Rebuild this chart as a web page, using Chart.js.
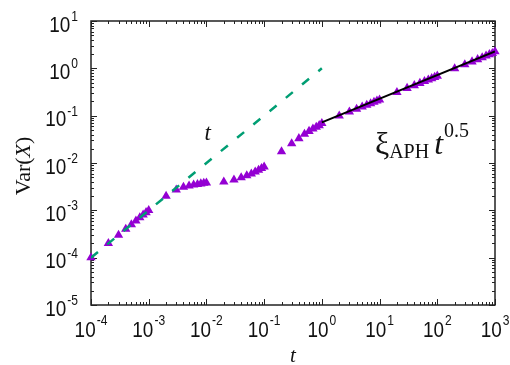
<!DOCTYPE html>
<html>
<head>
<meta charset="utf-8">
<script src="https://cdn.jsdelivr.net/npm/chart.js@4.4.1/dist/chart.umd.min.js"></script>
<style>
html, body { margin: 0; padding: 0; background: #fff; }
</style>
</head>
<body>
<canvas id="varChart" width="510" height="365"></canvas>
<script>
// times at which Var(X) was sampled
const tValues = [
    1e-4, 2e-4, 3e-4, 4e-4, 5e-4, 6e-4, 7e-4, 8e-4, 9e-4,
    1e-3, 2e-3, 3e-3, 4e-3, 5e-3, 6e-3, 7e-3, 8e-3, 9e-3,
    1e-2, 2e-2, 3e-2, 4e-2, 5e-2, 6e-2, 7e-2, 8e-2, 9e-2,
    0.1, 0.2, 0.3, 0.4, 0.5, 0.6, 0.7, 0.8, 0.9,
    1, 2, 3, 4, 5, 6, 7, 8, 9,
    10, 20, 30, 40, 50, 60, 70, 80, 90,
    100, 200, 300, 400, 500, 600, 700, 800, 900,
    1000
];
const varValues = [
    1e-4, 2e-4, 3e-4, 4e-4, 5e-4, 6e-4, 7e-4, 8e-4, 9e-4,
    1e-3, 2e-3, 2.7e-3, 3.1e-3, 3.3e-3, 3.45e-3, 3.55e-3, 3.65e-3, 3.75e-3,
    3.8e-3, 4.0e-3, 4.4e-3, 4.9e-3, 5.4e-3, 5.9e-3, 6.5e-3, 7.1e-3, 7.7e-3,
    8.3e-3, 0.0174, 0.0257, 0.033, 0.0407, 0.047, 0.0525, 0.0575, 0.062,
    0.069, 0.099, 0.12, 0.138, 0.153, 0.167, 0.18, 0.193, 0.205,
    0.216, 0.312, 0.38, 0.435, 0.485, 0.53, 0.572, 0.612, 0.65,
    0.69, 0.99, 1.2, 1.38, 1.54, 1.69, 1.83, 1.96, 2.08,
    2.25
];
// guide line ~ t
const guideT = [1e-4, 1];
const guideVar = [1e-4, 1];
// fit xi_APH * t^0.5
const fitT = [1, 1000];
const fitVar = [0.072, 2.277];

const xExps = [-4, -3, -2, -1, 0, 1, 2, 3];
const yExps = [-5, -4, -3, -2, -1, 0, 1];

function toPoints(xs, ys) {
    return xs.map((x, i) => ({ x: x, y: ys[i] }));
}

const SQUASH = 0.86;
const SANS = '"Liberation Sans", Arial, sans-serif';
const SERIF = '"Liberation Serif", "Times New Roman", serif';

function squashText(ctx, txt, x, y) {
    ctx.save();
    ctx.translate(x, y);
    ctx.scale(SQUASH, 1);
    ctx.fillText(txt, 0, 0);
    ctx.restore();
}

// draws 10^exp; (left, base) = left edge + baseline of "10"
function drawPow(ctx, left, base, supBase, exp) {
    ctx.textAlign = 'left';
    ctx.textBaseline = 'alphabetic';
    ctx.font = '22px ' + SANS;
    const w1 = ctx.measureText('10').width * SQUASH;
    squashText(ctx, '10', left, base);
    ctx.font = '14px ' + SANS;
    squashText(ctx, String(exp), left + w1 + 1, supBase);
}
function powWidth(ctx, exp) {
    ctx.font = '22px ' + SANS;
    const w1 = ctx.measureText('10').width * SQUASH;
    ctx.font = '14px ' + SANS;
    const w2 = ctx.measureText(String(exp)).width * SQUASH;
    return w1 + 1 + w2;
}

const framePlugin = {
    id: 'frame',
    beforeDatasetsDraw(chart) {
        const ctx = chart.ctx;
        const a = chart.chartArea;
        const xs = chart.scales.x, ys = chart.scales.y;
        ctx.save();
        ctx.strokeStyle = '#222';
        ctx.lineWidth = 1.5;
        ctx.strokeRect(a.left, a.top, a.right - a.left, a.bottom - a.top);
        ctx.lineWidth = 1;
        ctx.beginPath();
        xExps.forEach(e => {
            for (let m = 1; m <= 9; m++) {
                const v = m * Math.pow(10, e);
                if (v > xs.max * 1.0001) break;
                const px = Math.round(xs.getPixelForValue(v)) + 0.5;
                const len = m === 1 ? 6 : 3;
                ctx.moveTo(px, a.bottom); ctx.lineTo(px, a.bottom - len);
                ctx.moveTo(px, a.top); ctx.lineTo(px, a.top + len);
            }
        });
        yExps.forEach(e => {
            for (let m = 1; m <= 9; m++) {
                const v = m * Math.pow(10, e);
                if (v > ys.max * 1.0001) break;
                const py = Math.round(ys.getPixelForValue(v)) + 0.5;
                const len = m === 1 ? 6 : 3;
                ctx.moveTo(a.left, py); ctx.lineTo(a.left + len, py);
                ctx.moveTo(a.right, py); ctx.lineTo(a.right - len, py);
            }
        });
        ctx.stroke();
        ctx.restore();
    },
    afterDraw(chart) {
        const ctx = chart.ctx;
        const a = chart.chartArea;
        const xs = chart.scales.x, ys = chart.scales.y;
        ctx.save();
        ctx.fillStyle = '#111';
        // tick labels
        xExps.forEach(e => {
            const px = xs.getPixelForValue(Math.pow(10, e));
            const w = powWidth(ctx, e);
            drawPow(ctx, px - w / 2, a.bottom + 31.5, a.bottom + 20, e);
        });
        yExps.forEach(e => {
            const py = ys.getPixelForValue(Math.pow(10, e));
            const w = powWidth(ctx, e);
            drawPow(ctx, 78 - w, py + 10.5, py, e);
        });

        // axis titles
        ctx.font = 'italic 21px ' + SERIF;
        ctx.textAlign = 'center';
        ctx.textBaseline = 'alphabetic';
        ctx.fillText('t', (a.left + a.right) / 2, 362);

        ctx.save();
        ctx.translate(30, (a.top + a.bottom) / 2 + 3);
        ctx.rotate(-Math.PI / 2);
        ctx.textAlign = 'left';
        const p1 = 'Var(';
        ctx.font = '22px ' + SERIF;
        const w1 = ctx.measureText(p1).width;
        ctx.font = 'italic 22px ' + SERIF;
        const w2 = ctx.measureText('X').width;
        ctx.font = '22px ' + SERIF;
        const w3 = ctx.measureText(')').width;
        let x0 = -(w1 + w2 + w3) / 2;
        ctx.fillText(p1, x0, 0);
        ctx.font = 'italic 22px ' + SERIF;
        ctx.fillText('X', x0 + w1, 0);
        ctx.font = '22px ' + SERIF;
        ctx.fillText(')', x0 + w1 + w2, 0);
        ctx.restore();

        // annotation "t" next to the guide line
        ctx.font = 'italic 23px ' + SERIF;
        ctx.textAlign = 'center';
        ctx.fillText('t', xs.getPixelForValue(0.0105), ys.getPixelForValue(0.03));

        // annotation xi_APH t^0.5
        ctx.textAlign = 'left';
        let lx = xs.getPixelForValue(8.3);
        const base = ys.getPixelForValue(0.0155);
        ctx.font = '32px ' + SERIF;
        ctx.fillText('\u03BE', lx, base);
        lx += ctx.measureText('\u03BE').width;
        ctx.font = '20px ' + SERIF;
        ctx.fillText('APH', lx, base + 4);
        lx += ctx.measureText('APH').width + 5;
        ctx.font = 'italic 32px ' + SERIF;
        ctx.fillText('t', lx, base);
        lx += ctx.measureText('t').width + 1;
        ctx.font = '20px ' + SERIF;
        ctx.fillText('0.5', lx, base - 17);
        ctx.restore();
    }
};

new Chart(document.getElementById('varChart'), {
    type: 'scatter',
    data: {
        datasets: [
            {
                label: 'fit',
                data: toPoints(fitT, fitVar),
                showLine: true,
                borderColor: '#000000',
                borderWidth: 2,
                pointRadius: 0
            },
            {
                label: 't',
                data: toPoints(guideT, guideVar),
                showLine: true,
                borderColor: '#009e73',
                borderWidth: 2.5,
                borderDash: [9, 12],
                pointRadius: 0
            },
            {
                label: 'Var(X)',
                data: toPoints(tValues, varValues),
                pointStyle: 'triangle',
                pointRadius: 5.4,
                backgroundColor: '#9400d3',
                borderColor: '#9400d3',
                borderWidth: 0,
                clip: false
            }
        ]
    },
    options: {
        responsive: false,
        animation: false,
        devicePixelRatio: 1,
        layout: {
            padding: { left: 91, top: 21, right: 15, bottom: 60 }
        },
        scales: {
            x: { type: 'logarithmic', min: 1e-4, max: 1e3, display: false },
            y: { type: 'logarithmic', min: 1e-5, max: 10, display: false }
        },
        plugins: {
            legend: { display: false },
            tooltip: { enabled: false }
        }
    },
    plugins: [framePlugin]
});
</script>
</body>
</html>
